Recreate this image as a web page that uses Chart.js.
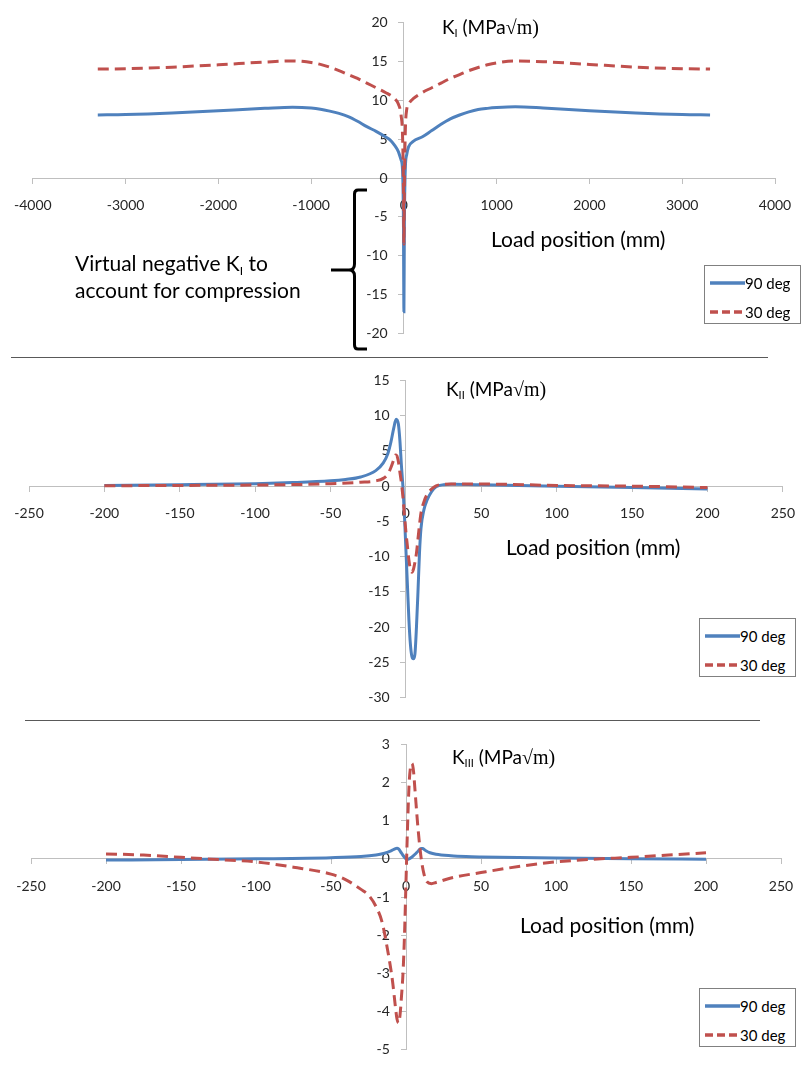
<!DOCTYPE html>
<html>
<head>
<meta charset="utf-8">
<script src="https://cdn.jsdelivr.net/npm/chart.js@4.4.1/dist/chart.umd.min.js"></script>
<style>
  body { margin: 0; background: #fff; width: 809px; height: 1072px; position: relative; overflow: hidden;
         font-family: Lato, "Open Sans", sans-serif; color: #000; }
  canvas { position: absolute; left: 0; }
  .lbl { position: absolute; white-space: nowrap; line-height: 1; }
  .big { font-size: 21px; }
  .ktitle { font-size: 19px; }
  .ktitle sub { font-size: 11px; vertical-align: -3px; }
  .big sub { font-size: 12px; vertical-align: -4px; }
  .serif { font-family: "Liberation Serif", "DejaVu Serif", serif; font-size: 20px; }
  .sep { position: absolute; height: 0; border-top: 1px solid #595959; }
  .legend { position: absolute; width: 97px; height: 59px; box-sizing: border-box; border: 1px solid #808080; background: #fff; }
  .legend .row { position: absolute; left: 4px; height: 18px; display: flex; align-items: center; font-size: 15px; }
  .legend svg { display: block; }
</style>
</head>
<body>
<canvas id="kI" width="809" height="356" style="top:0"></canvas>
<canvas id="kII" width="809" height="362" style="top:358px"></canvas>
<canvas id="kIII" width="809" height="350" style="top:722px"></canvas>

<div class="sep" style="left:11px; width:757px; top:357px"></div>
<div class="sep" style="left:25px; width:735px; top:720px"></div>

<div class="lbl ktitle" style="left:442px; top:17px">K<sub>I</sub> (MPa<span class="serif">√m)</span></div>
<div class="lbl ktitle" style="left:446px; top:379px">K<sub>II</sub> (MPa<span class="serif">√m)</span></div>
<div class="lbl ktitle" style="left:452px; top:747px">K<sub>III</sub> (MPa<span class="serif">√m)</span></div>

<div class="lbl big" style="left:491px; top:228px">Load position (mm)</div>
<div class="lbl big" style="left:506px; top:536px">Load position (mm)</div>
<div class="lbl big" style="left:520px; top:914px">Load position (mm)</div>

<div class="lbl big" style="left:75px; top:252px">Virtual negative K<sub>I</sub> to</div>
<div class="lbl big" style="left:75px; top:279px">account for compression</div>

<!-- brace next to the negative part of the K_I axis -->
<svg style="position:absolute; left:0; top:0" width="809" height="360">
  <path d="M367 190 L358 190 Q354.5 190 354.5 194 L354.5 264 Q354.5 270 349 270 L331 270 M349 270 Q354.5 270 354.5 276 L354.5 345 Q354.5 349 358 349 L367 349"
        fill="none" stroke="#000" stroke-width="3"/>
</svg>

<div id="leg1" class="legend" style="left:704px; top:265px"></div>
<div id="leg2" class="legend" style="left:699px; top:618px"></div>
<div id="leg3" class="legend" style="left:699px; top:988px"></div>

<script>
// K_I versus load position, wide span (mm)
const kIPos90 = [-3300, -3000, -2500, -2000, -1500, -1200, -1000, -900, -800, -700, -600, -500, -400, -300, -200, -150, -100, -60, -30, -15, -5, 0,
                 5, 15, 30, 50, 100, 200, 300, 400, 500, 600, 700, 800, 900, 1000, 1200, 1500, 2000, 2500, 3000, 3300];
const kI90 = [8.1, 8.15, 8.35, 8.65, 8.95, 9.1, 9.0, 8.85, 8.6, 8.3, 7.9, 7.3, 6.6, 6.0, 5.3, 4.9, 4.2, 3.4, 2.3, 1.0, -6, -17.2,
              -6, 1.2, 3.0, 4.0, 4.7, 5.3, 6.1, 6.9, 7.6, 8.1, 8.5, 8.8, 8.95, 9.05, 9.15, 9.0, 8.65, 8.35, 8.15, 8.1];
const kIPos30 = [-3300, -3000, -2500, -2000, -1500, -1200, -1100, -1000, -900, -800, -700, -600, -500, -400, -300, -200, -100, -60, -30, -15, -5, 0,
                 5, 15, 30, 60, 100, 200, 300, 400, 500, 600, 700, 800, 900, 1000, 1200, 1500, 2000, 2500, 3000, 3300];
const kI30 = [14.0, 14.05, 14.25, 14.55, 14.9, 15.05, 15.0, 14.85, 14.6, 14.25, 13.8, 13.3, 12.8, 12.2, 11.6, 11.0, 10.2, 9.5, 8.0, 5.5, -1, -8.5,
              -1, 6.0, 8.8, 9.7, 10.2, 11.0, 11.6, 12.2, 12.8, 13.3, 13.8, 14.2, 14.55, 14.8, 15.05, 14.95, 14.6, 14.25, 14.05, 14.0];

// K_II versus load position (mm)
const kIIPos90 = [-200, -150, -100, -75, -50, -40, -30, -20, -15, -12, -10, -8, -6.5, -5, -4, -3, -2, -1, 0, 1, 2, 3, 4, 5,
                  6, 7, 8, 9, 10, 12, 14, 17, 20, 25, 30, 50, 100, 150, 200];
const kII90 = [0.1, 0.2, 0.35, 0.5, 0.75, 0.95, 1.3, 2.2, 3.3, 4.6, 6.2, 8.3, 9.5, 8.8, 6.5, 3.0, 0, -4, -9, -14, -19, -22.5, -24.2, -24.5,
               -23.8, -20, -15, -9.5, -6, -3.3, -2, -0.8, -0.1, 0.2, 0.25, 0.2, 0.0, -0.2, -0.4];
const kIIPos30 = [-200, -150, -100, -50, -30, -20, -15, -12, -10, -8, -7, -6, -5, -4, -3, -2, -1, 0, 1, 2, 3, 4, 5,
                  6, 7, 8, 9, 10, 12, 14, 17, 20, 25, 30, 50, 100, 150, 200];
const kII30 = [0.05, 0.1, 0.15, 0.35, 0.55, 0.75, 1.1, 1.7, 2.6, 3.8, 4.4, 4.3, 3.5, 2.0, 0.5, -1.5, -4, -6.5, -8.5, -10.5, -11.8, -12.2, -11.8,
               -10.8, -9.5, -7.5, -5.5, -3.8, -2.2, -1.2, -0.4, 0.05, 0.25, 0.3, 0.3, 0.1, 0.0, -0.2];

// K_III versus load position (mm)
const kIIIPos90 = [-200, -150, -100, -50, -30, -20, -15, -10, -7, -6, -5, -3, -1, 0, 1, 2, 4, 6, 8, 10, 11, 13, 16, 20, 30, 40, 50,
                   100, 150, 200];
const kIII90 = [-0.03, -0.02, 0.0, 0.03, 0.06, 0.1, 0.14, 0.21, 0.27, 0.28, 0.26, 0.15, 0.04, 0.0, -0.01, 0.0, 0.05, 0.12, 0.2, 0.27, 0.27,
                0.22, 0.16, 0.12, 0.08, 0.06, 0.05, 0.02, 0.0, -0.01];
const kIIIPos30 = [-200, -175, -150, -125, -100, -75, -50, -40, -30, -25, -20, -16, -12, -9, -7, -6, -5, -4, -3, -2, -1, 0, 1, 2, 3,
                   4, 5, 6, 8, 10, 12, 14, 17, 20, 30, 50, 75, 100, 125, 150, 175, 200];
const kIII30 = [0.13, 0.1, 0.04, -0.02, -0.08, -0.22, -0.4, -0.55, -0.8, -0.95, -1.25, -1.65, -2.45, -3.2, -3.9, -4.2, -4.3, -4.1, -3.6,
                -3.0, -2.0, -0.6, 0.8, 1.9, 2.4, 2.5, 2.3, 1.8, 0.8, 0.05, -0.4, -0.6, -0.65, -0.62, -0.5, -0.36, -0.2, -0.08, -0.01,
                0.04, 0.1, 0.16];

const seriesNames = ['90 deg', '30 deg'];
const blue = '#4f81bd';
const red = '#c0504d';
const axisGray = '#bfbfbf';

function pts(xs, ys) {
    return xs.map((x, i) => ({ x: x, y: ys[i] }));
}

function axis(min, max, step, isX) {
    return {
        type: 'linear',
        min: min,
        max: max,
        position: isX ? { y: 0 } : { x: 0 },
        grid: { drawOnChartArea: false, drawTicks: true, tickLength: 5, color: axisGray },
        border: { color: axisGray, width: 1 },
        ticks: {
            stepSize: step,
            autoSkip: false,
            maxRotation: 0,
            padding: 14,
            color: '#262626',
            font: { family: 'Lato', size: 14 },
            // y labels sit against the crossing axis, so pad them with figure spaces
            callback: v => isX ? String(v) : String(v) + '\u2007\u2007'
        }
    };
}

function drawChart(id, legendId, data90, data30, xAxis, yAxis, padding) {
    const chart = new Chart(document.getElementById(id), {
        type: 'line',
        data: {
            datasets: [
                { label: seriesNames[0], data: data90, borderColor: blue, borderWidth: 3, order: 2 },
                { label: seriesNames[1], data: data30, borderColor: red, borderWidth: 3, borderDash: [11, 6], order: 1 }
            ]
        },
        options: {
            responsive: false,
            devicePixelRatio: 1,
            animation: false,
            layout: { padding: padding },
            elements: {
                point: { radius: 0 },
                line: { cubicInterpolationMode: 'monotone', borderCapStyle: 'butt', fill: false }
            },
            plugins: { legend: { display: false }, tooltip: { enabled: false } },
            scales: { x: xAxis, y: yAxis }
        }
    });

    // legend box: one row per series with a line sample
    const box = document.getElementById(legendId);
    chart.data.datasets.forEach((ds, i) => {
        const row = document.createElement('div');
        row.className = 'row';
        row.style.top = (i === 0 ? 8 : 37) + 'px';
        const dash = ds.borderDash ? 'stroke-dasharray="8 4"' : '';
        row.innerHTML = '<svg width="36" height="6"><line x1="1" y1="3" x2="36" y2="3" stroke="' + ds.borderColor +
            '" stroke-width="3.5" ' + dash + '/></svg><span>' + ds.label + '</span>';
        box.appendChild(row);
    });
    return chart;
}

drawChart('kI', 'leg1', pts(kIPos90, kI90), pts(kIPos30, kI30),
    axis(-4000, 4000, 1000, true), axis(-20, 20, 5, false),
    { left: 32, right: 34, top: 16, bottom: 14 });

drawChart('kII', 'leg2', pts(kIIPos90, kII90), pts(kIIPos30, kII30),
    axis(-250, 250, 50, true), axis(-30, 15, 5, false),
    { left: 29, right: 16, top: 21, bottom: 14 });

drawChart('kIII', 'leg3', pts(kIIIPos90, kIII90), pts(kIIIPos30, kIII30),
    axis(-250, 250, 50, true), axis(-5, 3, 1, false),
    { left: 31, right: 28, top: 16, bottom: 11 });
</script>
</body>
</html>
